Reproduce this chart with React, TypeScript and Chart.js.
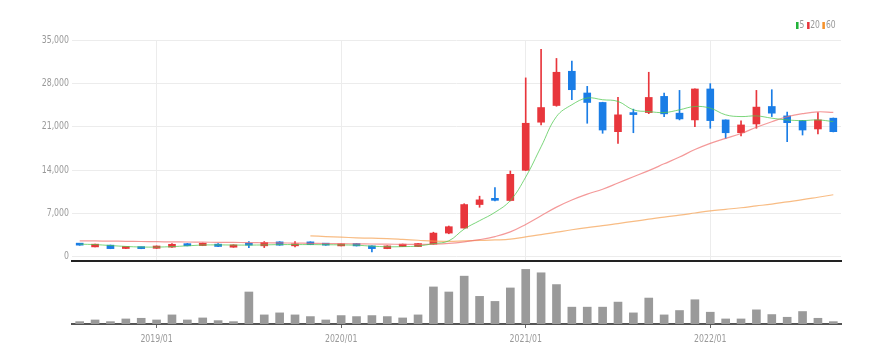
import React, { useEffect, useRef } from 'react';
import { Chart, registerables } from 'chart.js';
Chart.register(...registerables);

const labels = [
  '2018/08','2018/09','2018/10','2018/11','2018/12',
  '2019/01','2019/02','2019/03','2019/04','2019/05','2019/06','2019/07','2019/08','2019/09','2019/10','2019/11','2019/12',
  '2020/01','2020/02','2020/03','2020/04','2020/05','2020/06','2020/07','2020/08','2020/09','2020/10','2020/11','2020/12',
  '2021/01','2021/02','2021/03','2021/04','2021/05','2021/06','2021/07','2021/08','2021/09','2021/10','2021/11','2021/12',
  '2022/01','2022/02','2022/03','2022/04','2022/05','2022/06','2022/07','2022/08','2022/09',
];

const openP = [
  2020, 1580, 1860, 1320, 1520, 1350, 1540, 2100, 1790, 2020, 1530, 2020,
  1750, 2390, 1750, 2390, 2020, 1740, 2120, 1740, 1300, 1630, 1630, 2020,
  3810, 4620, 8420, 9250, 9070, 13950, 21720, 24420, 29950, 26440, 24910, 20190,
  23050, 23280, 25890, 23180, 22090, 27090, 22090, 20020, 21440, 24260, 22740, 21980,
  20630, 22370,
];
const closeP = [
  1860, 2020, 1300, 1500, 1300, 1720, 2000, 1760, 2170, 1650, 1900, 1860,
  2280, 1860, 2020, 1950, 1860, 2070, 1740, 1300, 1740, 2020, 2120, 3810,
  4840, 8420, 9180, 9100, 13300, 21550, 24090, 29790, 26970, 24910, 20460, 22910,
  22950, 25720, 23070, 22250, 27090, 21980, 20020, 21280, 24160, 23180, 21650, 20460,
  22090, 20190,
];
const highP = [
  2050, 2050, 1880, 1520, 1540, 1740, 2100, 2140, 2200, 2100, 1920, 2440,
  2440, 2420, 2440, 2410, 2040, 2090, 2140, 1760, 1760, 2040, 2140, 3950,
  4950, 8550, 9770, 11140, 13840, 28880, 33490, 32020, 31580, 27510, 24950, 25720,
  23830, 29790, 26440, 26860, 27100, 27950, 22100, 21930, 26860, 26970, 23350, 22000,
  23280, 22400,
];
const lowP = [
  1840, 1560, 1280, 1290, 1280, 1330, 1500, 1740, 1770, 1600, 1510, 1470,
  1470, 1840, 1580, 1930, 1840, 1720, 1720, 770, 1280, 1610, 1610, 2000,
  3700, 4600, 7980, 9000, 9000, 13900, 21280, 24300, 25350, 21550, 19930, 18300,
  20020, 23100, 22630, 22090, 21000, 20740, 19110, 19490, 20740, 22630, 18560, 19650,
  19810, 20150,
];

const volume = [
  700, 1200, 700, 1500, 1700, 1200, 2700, 1200, 1800, 1000, 700, 9500,
  2700, 3300, 2700, 2200, 1200, 2500, 2200, 2500, 2200, 1800, 2700, 11000,
  9500, 14200, 8200, 6700, 10700, 16200, 15200, 11700, 5000, 5000, 5000, 6500,
  3300, 7700, 2700, 4000, 7200, 3500, 1500, 1500, 4200, 2800, 2000, 3700,
  1700, 700,
];

const ma5 = [
  2020, 1950, 1800, 1650, 1560, 1550, 1620, 1750, 1880, 1900, 1880, 1870,
  1900, 1950, 1950, 1950, 1930, 1900, 1850, 1700, 1600, 1620, 1720, 2100,
  2560, 4460, 5810, 7160, 9070, 12860, 17750, 22630, 24540, 25630, 25350, 25080,
  23720, 23440, 23280, 23720, 24260, 23990, 22910, 22630, 22740, 22370, 22090, 21980,
  22090, 21820,
];
const ma20 = [
  2560, 2540, 2510, 2480, 2450, 2420, 2390, 2370, 2340, 2320, 2300, 2280,
  2250, 2220, 2190, 2160, 2130, 2100, 2080, 2050, 2020, 2000, 1990, 2030,
  2150, 2400, 2750, 3250, 4000, 5200, 6600, 8000, 9150, 10100, 10900, 11900,
  12900, 13900, 15000, 16100, 17300, 18300, 19100, 19900, 20900, 21800, 22600, 23100,
  23400, 23300,
];
const ma60 = [
  null, null, null, null, null, null, null, null, null, null, null, null,
  null, null, null, 3370, 3250, 3150, 3050, 2980, 2930, 2800, 2650, 2500,
  2480, 2550, 2620, 2700, 2830, 3200, 3550, 3950, 4350, 4700, 5000, 5350,
  5700, 6050, 6400, 6700, 7050, 7400, 7650, 7900, 8200, 8500, 8850, 9200,
  9600, 10000,
];

const priceTicks = [0, 7000, 14000, 21000, 28000, 35000];
const legendItems = [
  { label: '5', color: '#22b33a' },
  { label: '20', color: '#e8363c' },
  { label: '60', color: '#f5922b' },
];

const UP = '#e8363c';
const DOWN = '#1a7de6';
const FONT = "'DejaVu Sans', sans-serif";
const FONT_STYLE = 'condensed';
const TEXT_SQUEEZE = 0.78;

// Draws the library's own text a little narrower (the reference uses a narrow face).
const narrowText = {
  id: 'narrowText',
  beforeDraw(chart: any) {
    const ctx = chart.ctx as any;
    if (ctx.__origFillText) return;
    const orig = ctx.fillText;
    ctx.__origFillText = orig;
    ctx.fillText = function (t: string, x: number, y: number, mw?: number) {
      this.save();
      this.translate(x, y);
      this.scale(TEXT_SQUEEZE, 1);
      if (mw === undefined) orig.call(this, t, 0, 0);
      else orig.call(this, t, 0, 0, mw / TEXT_SQUEEZE);
      this.restore();
    };
  },
  afterDraw(chart: any) {
    const ctx = chart.ctx as any;
    if (ctx.__origFillText) {
      ctx.fillText = ctx.__origFillText;
      delete ctx.__origFillText;
    }
  },
};

export default function App() {
  const topRef = useRef<HTMLCanvasElement>(null);
  const botRef = useRef<HTMLCanvasElement>(null);

  useEffect(() => {
    const colors = openP.map((o, i) => (closeP[i] >= o ? UP : DOWN));
    const bodies = openP.map((o, i) => [o, closeP[i]]);
    const wicks = lowP.map((l, i) => [l, highP[i]]);
    const isYear = (i: number) => !!labels[i] && labels[i].endsWith('/01');

    const top = new Chart(topRef.current as HTMLCanvasElement, {
      type: 'bar',
      plugins: [narrowText],
      data: {
        labels,
        datasets: [
          { type: 'line', label: '5', data: ma5, borderColor: 'rgba(80,200,80,0.75)', borderWidth: 1, pointRadius: 0, tension: 0.4, order: 0 } as any,
          { type: 'line', label: '20', data: ma20, borderColor: 'rgba(240,110,110,0.7)', borderWidth: 1.2, pointRadius: 0, tension: 0.4, order: 0 } as any,
          { type: 'line', label: '60', data: ma60, borderColor: 'rgba(245,160,80,0.7)', borderWidth: 1.2, pointRadius: 0, tension: 0.4, order: 0 } as any,
          { type: 'bar', label: 'body', data: bodies, backgroundColor: colors, barThickness: 7, grouped: false, minBarLength: 2, borderWidth: 0, order: 1 } as any,
          { type: 'bar', label: 'wick', data: wicks, backgroundColor: colors, barThickness: 1, grouped: false, borderWidth: 0, order: 2 } as any,
        ],
      },
      options: {
        animation: false,
        responsive: false,
        maintainAspectRatio: false,
        layout: { padding: { left: 0, right: 48, top: 40, bottom: 2 } },
        plugins: { legend: { display: false }, tooltip: { enabled: false } },
        scales: {
          x: {
            ticks: { display: false, autoSkip: false },
            grid: {
              drawTicks: false,
              offset: false,
              color: (ctx: any) => (isYear(ctx.index) ? '#ececec' : 'rgba(0,0,0,0)'),
            },
            border: { color: '#222', width: 2 },
          },
          y: {
            min: -700,
            max: 35000,
            afterBuildTicks: (s: any) => {
              s.ticks = priceTicks.map((v) => ({ value: v }));
            },
            afterFit: (s: any) => {
              s.width = 72;
            },
            ticks: {
              color: '#999',
              font: { family: FONT, size: 10, style: FONT_STYLE as any },
              padding: 3,
              callback: (v: any) => Number(v).toLocaleString('en-US'),
            },
            grid: { color: '#ececec', drawTicks: false },
            border: { display: false },
          },
        },
      },
    });

    const bot = new Chart(botRef.current as HTMLCanvasElement, {
      type: 'bar',
      plugins: [narrowText],
      data: {
        labels,
        datasets: [
          { label: 'volume', data: volume, backgroundColor: '#9a9a9a', barThickness: 8, borderWidth: 0 },
        ],
      },
      options: {
        animation: false,
        responsive: false,
        maintainAspectRatio: false,
        layout: { padding: { left: 72, right: 48, top: 1, bottom: 14 } },
        plugins: { legend: { display: false }, tooltip: { enabled: false } },
        scales: {
          x: {
            ticks: {
              autoSkip: false,
              maxRotation: 0,
              color: '#999',
              font: { family: FONT, size: 10, style: FONT_STYLE as any },
              padding: 5,
              callback: (_v: any, i: number) => (isYear(i) ? labels[i] : ''),
            },
            grid: {
              drawOnChartArea: false,
              offset: false,
              tickLength: 4,
              color: (ctx: any) => (isYear(ctx.index) ? '#666' : 'rgba(0,0,0,0)'),
            },
            border: { color: '#555', width: 2 },
          },
          y: { display: false, min: 0, max: 18400 },
        },
      },
    });

    return () => {
      top.destroy();
      bot.destroy();
    };
  }, []);

  return (
    <div style={{ position: 'fixed', left: 0, top: 0, width: 889, height: 364, background: '#fff', overflow: 'hidden' }}>
      <canvas ref={topRef} width={889} height={270} style={{ position: 'absolute', left: 0, top: 0, width: 889, height: 270 }} />
      <canvas ref={botRef} width={889} height={103} style={{ position: 'absolute', left: 0, top: 261, width: 889, height: 103 }} />
      <div style={{ position: 'absolute', top: 19, left: 796, display: 'flex', alignItems: 'center', fontFamily: FONT, fontStretch: 'condensed', fontSize: 10, color: '#999', lineHeight: '12px', transform: 'scaleX(0.85)', transformOrigin: 'left center' }}>
        {legendItems.map((it) => (
          <span key={it.label} style={{ display: 'flex', alignItems: 'center', marginRight: 3 }}>
            <span style={{ display: 'inline-block', width: 3, height: 7, background: it.color, marginRight: 1 }} />
            <span>{it.label}</span>
          </span>
        ))}
      </div>
    </div>
  );
}
